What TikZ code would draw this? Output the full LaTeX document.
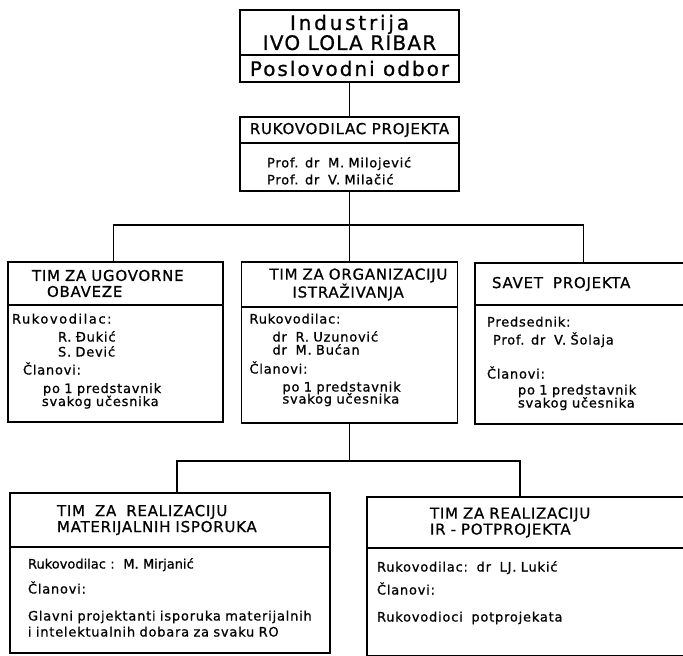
\documentclass[tikz,border=0pt]{standalone}
\usepackage{fontspec}
\setmainfont{DejaVu Sans}[FakeBold=0.8]
\usetikzlibrary{positioning}

\newcommand{\orghead}{\fontsize{15}{16}\selectfont\addfontfeature{LetterSpace=5}}
\newcommand{\orgbody}{\fontsize{13}{15}\selectfont\addfontfeature{LetterSpace=6}}
\newcommand{\indl}[1]{\hspace*{#1pt}}

\tikzset{
  box/.style={draw,line width=1.7pt,outer sep=0pt,inner sep=0pt},
  head/.style={box,anchor=north west,align=center,font=\orghead},
  body/.style={box,align=left,inner xsep=4pt,inner ysep=0pt,font=\orgbody},
  link/.style={line width=1.3pt}
}

\begin{document}
\begin{tikzpicture}[x=1pt,y=-1pt]
  \clip (0,0) rectangle (683,656);
  % vrh
  \node[head,minimum width=219pt,minimum height=45pt,font=\fontsize{20}{19}\selectfont] (ilr) at (240,10) {{\addfontfeature{LetterSpace=14}Industrija}\\{\addfontfeature{LetterSpace=6}IVO LOLA RIBAR}};
  \node[body,below=0pt of ilr,minimum width=219pt,minimum height=27pt,align=center,font=\fontsize{20}{22}\selectfont\addfontfeature{LetterSpace=10}] (odbor) {Poslovodni odbor};
  \node[head,minimum width=219pt,minimum height=26pt] (rukh) at (240,117) {RUKOVODILAC PROJEKTA};
  \node[body,below=0pt of rukh,text width=211pt,text height=24.4pt,text depth=23.6pt] (rukb) {\indl{23}Prof. dr\ \ M. Milojević\\[2pt]\indl{23}Prof. dr\ \ V. Milačić};
  % timovi
  \node[head,minimum width=215pt,minimum height=43pt,text width=215pt,align=left] (ugovh) at (8,262) {\indl{24}TIM ZA UGOVORNE\\\indl{39}OBAVEZE};
  \node[body,below=0pt of ugovh,text width=207pt,text height=18.5pt,text depth=98.5pt] (ugovb) {{\addfontfeature{LetterSpace=12}Rukovodilac:}\\[3pt]\indl{46}R. Đukić\\\indl{46}S. Dević\\[3pt]\indl{11}Članovi:\\[3.5pt]\indl{31}po 1 predstavnik\\[-2pt]\indl{30}svakog učesnika};
  \node[head,minimum width=216pt,minimum height=45pt,text width=216pt,align=left] (orgh) at (241.5,262) {\indl{28}TIM ZA ORGANIZACIJU\\\indl{51}ISTRAŽIVANJA};
  \node[body,below=0pt of orgh,text width=208pt,text height=16.5pt,text depth=99.5pt] (orgb) {\indl{4}Rukovodilac:\\[3pt]\indl{27}dr\ \ R. Uzunović\\[-2pt]\indl{27}dr\ \ M. Bućan\\[4pt]\indl{4}Članovi:\\[3pt]\indl{37}po 1 predstavnik\\[-3pt]\indl{37}svakog učesnika};
  \node[head,minimum width=225pt,minimum height=42pt,text width=225pt,align=left] (savh) at (475,263) {\indl{17}SAVET\ \ PROJEKTA};
  \node[body,below=0pt of savh,text width=217pt,text height=21.5pt,text depth=97.5pt] (savb) {\indl{8}Predsednik:\\[3pt]\indl{14}Prof. dr\ \ V. Šolaja\\[19pt]\indl{8}Članovi:\\[1pt]\indl{39}po 1 predstavnik\\[-2pt]\indl{39}svakog učesnika};
  % realizacija
  \node[head,minimum width=320pt,minimum height=54pt,text width=320pt,align=left] (math) at (10,493) {\indl{47}TIM\ \ ZA\ \ REALIZACIJU\\\indl{47}MATERIJALNIH ISPORUKA};
  \node[body,below=0pt of math,text width=312pt,text height=21.5pt,text depth=84.5pt] (matb) {\indl{14}{\addfontfeature{LetterSpace=0}Rukovodilac :\ \ M. Mirjanić}\\[10pt]\indl{14}Članovi:\\[12pt]\indl{14}Glavni projektanti isporuka materijalnih\\[1pt]\indl{14}i intelektualnih dobara za svaku RO};
  \node[head,minimum width=340pt,minimum height=51pt,text width=340pt,align=left] (irh) at (367,497) {\indl{63}TIM ZA REALIZACIJU\\\indl{63}IR - POTPROJEKTA};
  \node[body,below=0pt of irh,text width=332pt,text height=23.5pt,text depth=84.5pt] (irb) {\indl{6}Rukovodilac:\ \ dr\ \ LJ. Lukić\\[8pt]\indl{6}Članovi:\\[12pt]\indl{6}Rukovodioci\ \ potprojekata};
  % veze
  \coordinate (bus1) at (349.5,225);
  \coordinate (bus2) at (349.5,461);
  \draw[link] (odbor.south) -- (rukh.north);
  \draw[link] (rukb.south) -- (orgh.north);
  \draw[link] ([xshift=-2pt]ugovh.north) |- (bus1) -| ([xshift=-4pt]savh.north);
  \draw[link] (orgb.south) -- (bus2);
  \draw[link] ([xshift=7pt]math.north) |- (bus2) -| ([xshift=-17pt]irh.north);
\end{tikzpicture}
\end{document}
